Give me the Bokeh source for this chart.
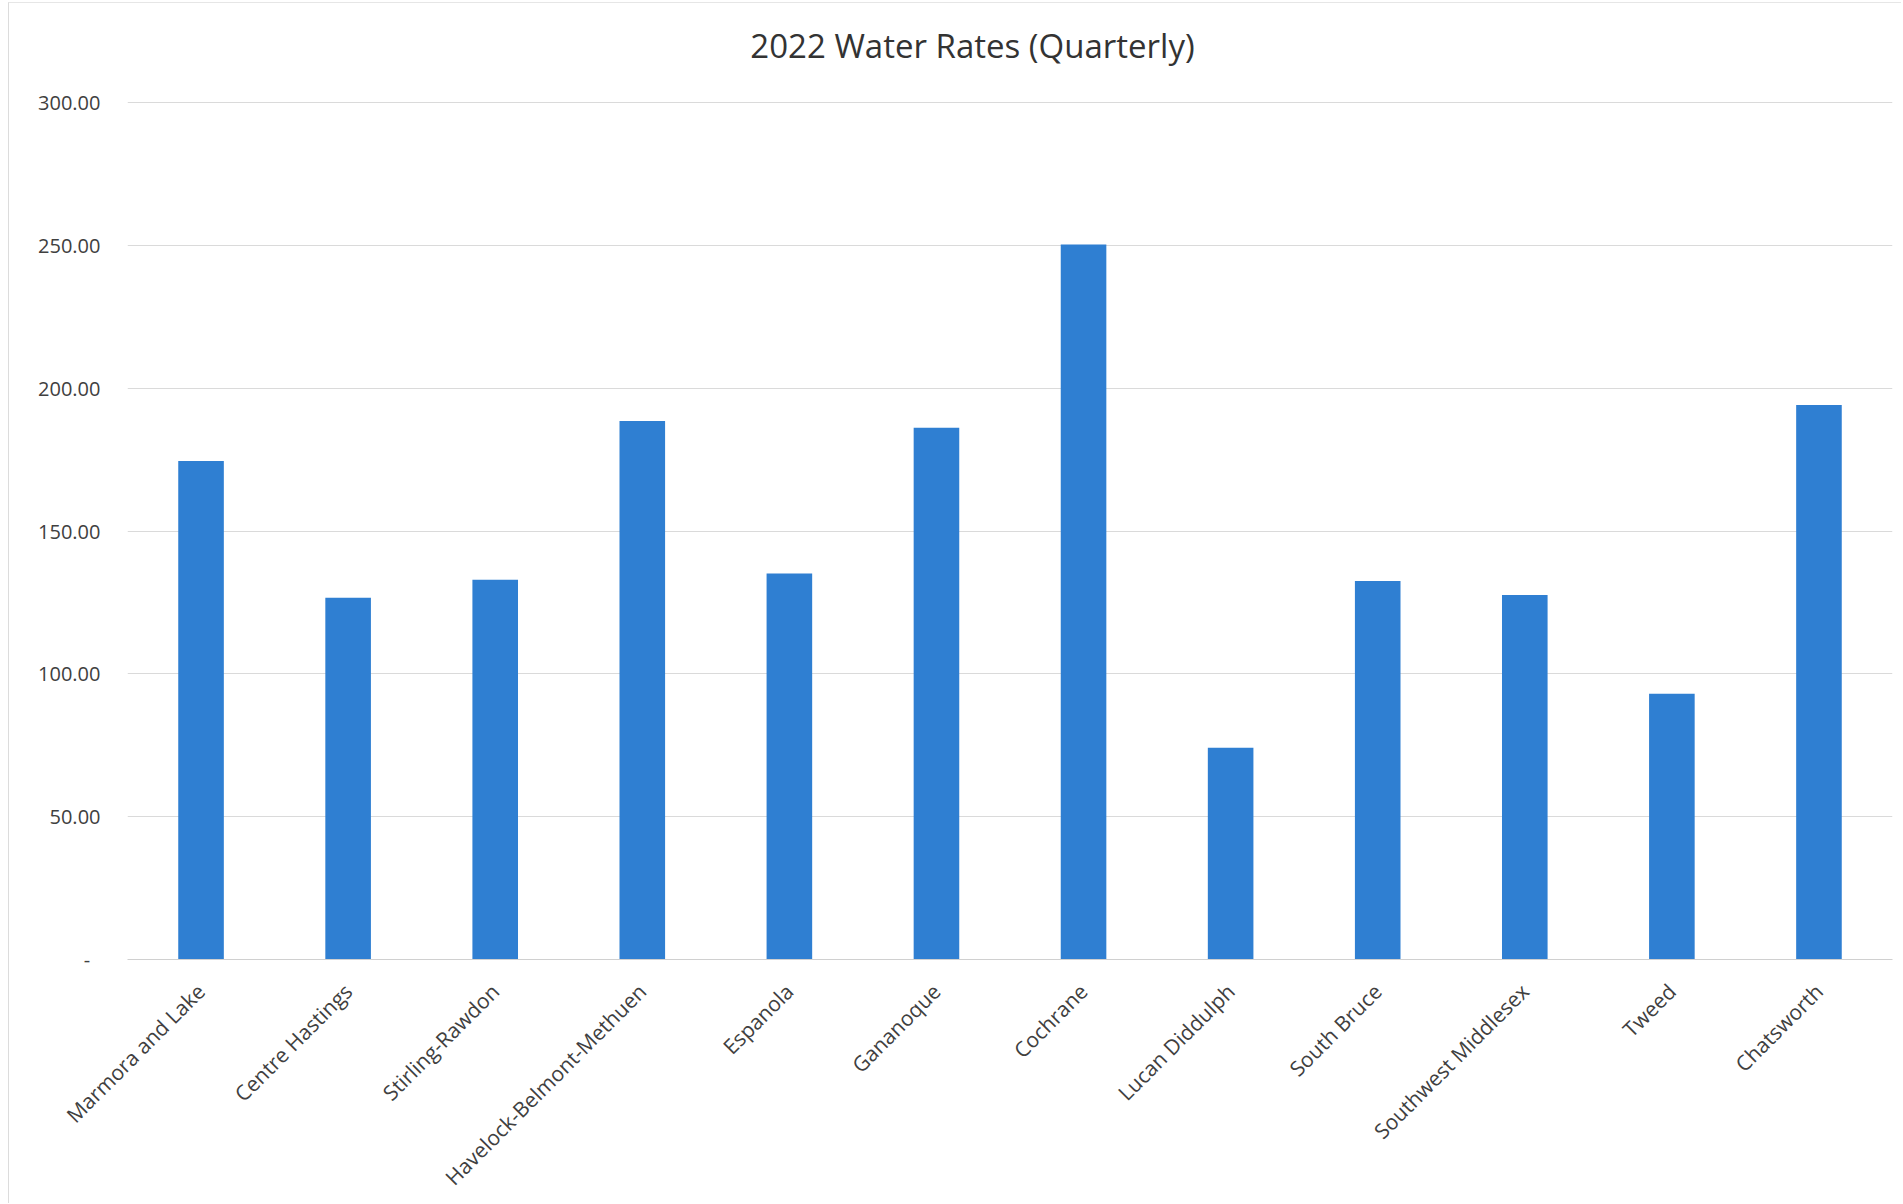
import math
from bokeh.plotting import figure
from bokeh.models import FixedTicker, CustomJSTickFormatter, Range1d, Label
from bokeh.embed import file_html
from bokeh.resources import INLINE

categories = ["Marmora and Lake", "Centre Hastings", "Stirling-Rawdon",
              "Havelock-Belmont-Methuen", "Espanola", "Gananoque", "Cochrane",
              "Lucan Diddulph", "South Bruce", "Southwest Middlesex", "Tweed",
              "Chatsworth"]
rates = [174.5, 126.6, 132.9, 188.5, 135.1, 186.1, 250.3, 74.1, 132.5, 127.6, 93.0, 194.1]
y_ticks = [0, 50, 100, 150, 200, 250, 300]
title_text = "2022 Water Rates (Quarterly)"

FONT = "Open Sans"
TEXT_COLOR = "#404040"
GRID = "#dadada"

# frame spans from near the top of the page down to the zero line;
# 300 sits 94px below the frame top, leaving room for the title inside it
FRAME_H = 951
Y_TOP = 300 * FRAME_H / 857.0

p = figure(x_range=categories, y_range=Range1d(0, Y_TOP),
           width=1893, height=1201,
           output_backend="svg", toolbar_location=None,
           min_border_left=118, min_border_right=10,
           min_border_top=5, min_border_bottom=245)

p.styles = {"border-left": "1px solid #dcdcdc", "border-top": "1px solid #e6e6e6",
            "margin-left": "8px", "margin-top": "2px"}

p.vbar(x=categories, top=rates, width=0.31, color="#2f7fd2", line_color=None)

p.background_fill_color = "white"
p.border_fill_color = "white"
p.outline_line_color = None

p.add_layout(Label(x=845, x_units="screen", y=300 + 57 * (300 / 857.0), y_units="data",
                   text=title_text, text_align="center", text_baseline="alphabetic",
                   text_font=FONT, text_font_size="33px", text_color="#333333"))

p.xgrid.grid_line_color = None
p.ygrid.grid_line_color = GRID
p.ygrid.grid_line_width = 1

p.yaxis.ticker = FixedTicker(ticks=y_ticks)
p.yaxis.formatter = CustomJSTickFormatter(code="""
    return tick == 0 ? "-\u00a0\u00a0" : tick.toFixed(2);
""")
p.yaxis.axis_line_color = None
p.yaxis.major_tick_line_color = None
p.yaxis.minor_tick_line_color = None
p.yaxis.major_label_standoff = 21
p.yaxis.major_label_text_font = FONT
p.yaxis.major_label_text_font_size = "20px"
p.yaxis.major_label_text_color = TEXT_COLOR

p.xaxis.axis_line_color = "#d0d0d0"
p.xaxis.major_tick_line_color = None
p.xaxis.minor_tick_line_color = None
p.xaxis.major_label_orientation = math.pi / 4
p.xaxis.major_label_standoff = 22
p.xaxis.major_label_text_font = FONT
p.xaxis.major_label_text_font_size = "21px"
p.xaxis.major_label_text_color = TEXT_COLOR

p.x_range.range_padding = 0

open("out.html", "w").write(file_html(p, INLINE))
